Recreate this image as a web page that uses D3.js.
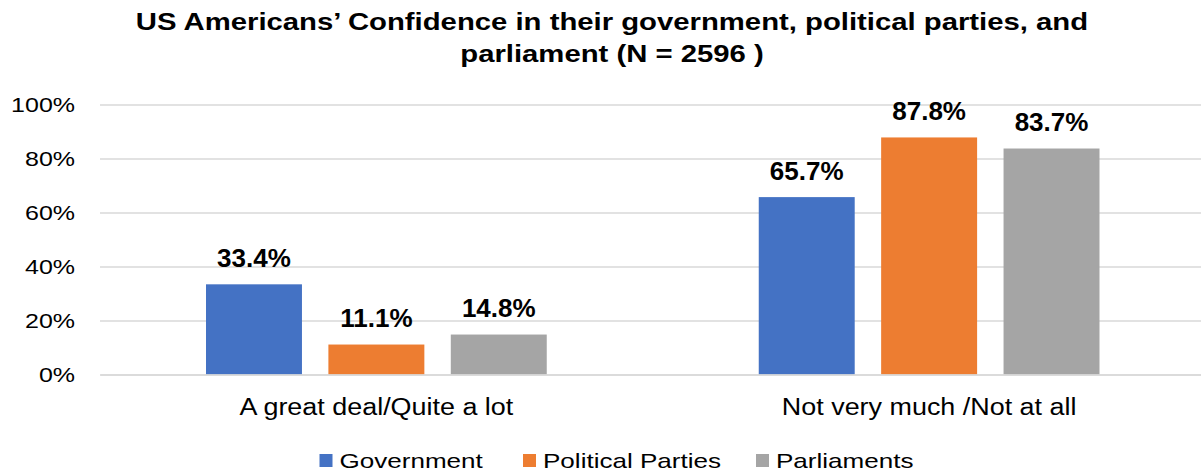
<!DOCTYPE html>
<html>
<head>
<meta charset="utf-8">
<script src="https://cdn.jsdelivr.net/npm/d3@7"></script>
<style>
  html, body { margin: 0; padding: 0; background: #fff; }
  svg { display: block; font-family: "Liberation Sans", Arial, sans-serif; }
</style>
</head>
<body>
<svg id="chart" width="1201" height="474"></svg>
<script>
// Survey responses, share of respondents (%)
const categories = ["A great deal/Quite a lot", "Not very much /Not at all"];
const seriesNames = ["Government", "Political Parties", "Parliaments"];
const government = [33.4, 65.7];
const politicalParties = [11.1, 87.8];
const parliaments = [14.8, 83.7];
const yTicks = [0, 20, 40, 60, 80, 100];
const colors = ["#4472C4", "#ED7D31", "#A5A5A5"];

const seriesValues = [government, politicalParties, parliaments];
const rows = categories.map((c, i) => ({
  category: c,
  values: seriesNames.map((s, j) => ({ series: s, value: seriesValues[j][i] }))
}));

// Widen glyphs horizontally by factor k (wide typeface look)
function widen(sel, k) {
  sel.each(function () {
    const w = this.getComputedTextLength();
    d3.select(this).attr("textLength", w * k).attr("lengthAdjust", "spacingAndGlyphs");
  });
}

const svg = d3.select("#chart");
const plot = { left: 100, right: 1205.5, top: 104.5, bottom: 374.5 };

const x0 = d3.scaleBand().domain(categories).range([plot.left, plot.right]).padding(0);
const groupPad = 106;
const x1 = d3.scaleBand().domain(seriesNames)
  .range([groupPad, x0.bandwidth() - groupPad])
  .paddingInner(0.216).paddingOuter(0);
const y = d3.scaleLinear().domain([0, 100]).range([plot.bottom, plot.top]);
const color = d3.scaleOrdinal().domain(seriesNames).range(colors);

// Title
const titleLines = [
  "US Americans’ Confidence in their government, political parties, and",
  "parliament (N = 2596 )"
];
svg.append("g").selectAll("text").data(titleLines).join("text")
  .attr("x", 612).attr("y", (d, i) => 29.5 + i * 32.3)
  .attr("text-anchor", "middle")
  .attr("font-weight", "bold").attr("font-size", 24.5).attr("fill", "#000")
  .text(d => d)
  .call(widen, 1.195);

// Horizontal gridlines and value ticks
const yAxis = d3.axisLeft(y).tickValues(yTicks).tickFormat(d => d + "%")
  .tickSize(-(plot.right - plot.left)).tickPadding(25);
const gy = svg.append("g").attr("transform", `translate(${plot.left},0)`).call(yAxis);
gy.select(".domain").remove();
gy.selectAll(".tick line").attr("stroke", "#D9D9D9").attr("stroke-width", 1.3);
gy.selectAll(".tick text").attr("font-size", 21).attr("fill", "#000").attr("dy", "0.34em")
  .attr("font-family", "Liberation Sans, Arial, sans-serif")
  .call(widen, 1.19);

// Bars
const groups = svg.append("g").selectAll("g").data(rows).join("g")
  .attr("transform", d => `translate(${x0(d.category)},0)`);

groups.selectAll("rect").data(d => d.values).join("rect")
  .attr("x", d => x1(d.series))
  .attr("width", x1.bandwidth())
  .attr("y", d => y(d.value))
  .attr("height", d => y(0) - y(d.value))
  .attr("fill", d => color(d.series));

// Value labels
groups.selectAll("text.val").data(d => d.values).join("text")
  .attr("class", "val")
  .attr("x", d => x1(d.series) + x1.bandwidth() / 2)
  .attr("y", d => y(d.value) - 17.5)
  .attr("text-anchor", "middle")
  .attr("font-weight", "bold").attr("font-size", 26).attr("fill", "#000")
  .text(d => d.value.toFixed(1) + "%");

// Category axis labels
const xAxis = d3.axisBottom(x0).tickSize(0).tickPadding(0);
const gx = svg.append("g").attr("transform", `translate(0,${plot.bottom})`).call(xAxis);
gx.select(".domain").attr("stroke", "#D9D9D9").attr("stroke-width", 1.3);
gx.selectAll(".tick text").attr("font-size", 23).attr("fill", "#000")
  .attr("dy", null).attr("y", 40)
  .attr("font-family", "Liberation Sans, Arial, sans-serif")
  .call(widen, 1.17);

// Legend
const legendX = [319.5, 523, 756];
const legend = svg.append("g").selectAll("g").data(seriesNames).join("g")
  .attr("transform", (d, i) => `translate(${legendX[i]},454)`);
legend.append("rect").attr("width", 13).attr("height", 13).attr("fill", d => color(d));
legend.append("text").attr("x", 20).attr("y", 14.3)
  .attr("font-size", 21).attr("fill", "#000").text(d => d)
  .call(widen, 1.24);
</script>
</body>
</html>
